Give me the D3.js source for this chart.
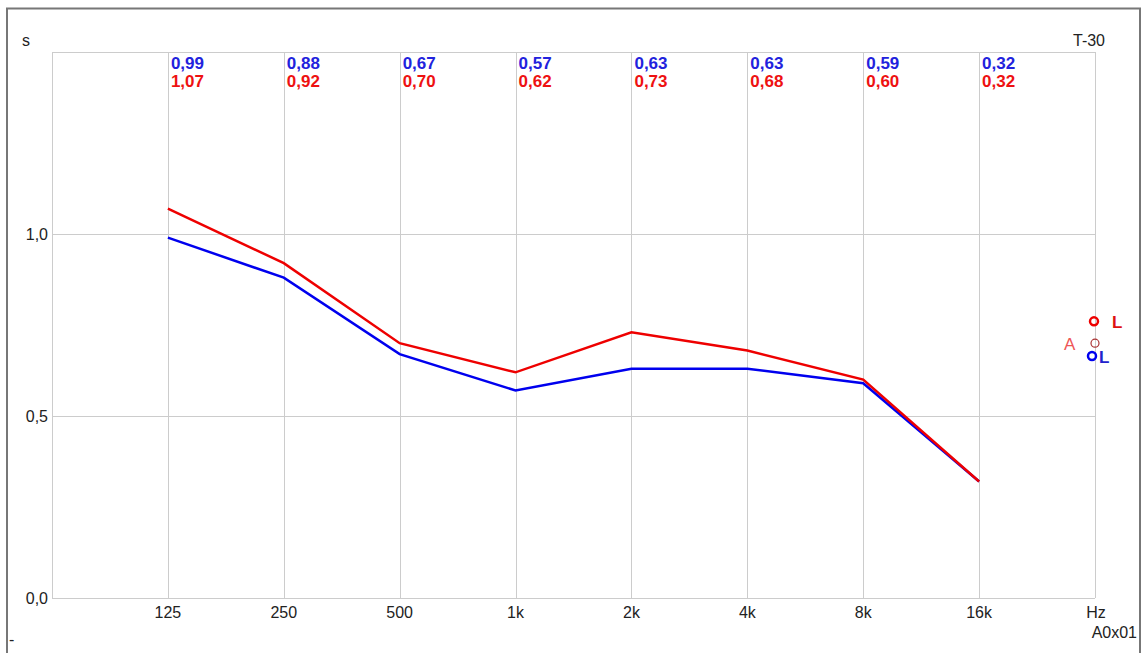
<!DOCTYPE html>
<html>
<head>
<meta charset="utf-8">
<script src="https://cdn.jsdelivr.net/npm/d3@7"></script>
<style>
  body { margin: 0; background: #fff; }
  text { font-family: "Liberation Sans", Arial, sans-serif; }
</style>
</head>
<body>
<svg id="chart" width="1145" height="653"></svg>
<script>
// frequency bands (Hz) and their labels
const bands = [125, 250, 500, 1000, 2000, 4000, 8000, 16000];
const bandLabels = ["125", "250", "500", "1k", "2k", "4k", "8k", "16k"];
// T-30 values in seconds
const blueValues = [0.99, 0.88, 0.67, 0.57, 0.63, 0.63, 0.59, 0.32];
const redValues = [1.07, 0.92, 0.70, 0.62, 0.73, 0.68, 0.60, 0.32];
// y ticks
const yTicks = [0, 0.5, 1.0];
// markers on the right edge
const redL = 0.76, avgA = 0.70, blueL = 0.665;

const svg = d3.select("#chart");
const plotLeft = 52, plotRight = 1095, plotTop = 52, plotBottom = 598;

const x = d3.scaleLog().base(2).domain([62.5, 32000]).range([plotLeft, plotRight]);
const y = d3.scaleLinear().domain([0, 1.5]).range([plotBottom, plotTop]);
const fmt = v => d3.format(".2f")(v).replace(".", ",");

// outer frame
svg.append("path")
    .attr("d", "M7,653 L7,8.5 L1140,8.5 L1140,653")
    .attr("fill", "none").attr("stroke", "#777").attr("stroke-width", 2);

// grid
const grid = svg.append("g").attr("stroke", "#cccccc").attr("stroke-width", 1);
bands.concat([32000]).forEach(b => {
    grid.append("line")
        .attr("x1", Math.round(x(b)) + 0.5).attr("x2", Math.round(x(b)) + 0.5)
        .attr("y1", plotTop).attr("y2", plotBottom);
});
yTicks.concat([1.5]).forEach(t => {
    grid.append("line")
        .attr("x1", plotLeft).attr("x2", plotRight)
        .attr("y1", Math.round(y(t)) + 0.5).attr("y2", Math.round(y(t)) + 0.5);
});
grid.append("line").attr("x1", plotLeft + 0.5).attr("x2", plotLeft + 0.5).attr("y1", plotTop).attr("y2", plotBottom);

// y tick labels
svg.selectAll(".ylab").data(yTicks).enter().append("text")
    .attr("x", plotLeft - 4).attr("y", d => y(d) + 6)
    .attr("text-anchor", "end").attr("font-size", 16).attr("fill", "#222")
    .text(d => d3.format(".1f")(d).replace(".", ","));

// x tick labels
svg.selectAll(".xlab").data(bands).enter().append("text")
    .attr("x", d => x(d)).attr("y", 618)
    .attr("text-anchor", "middle").attr("font-size", 16).attr("fill", "#222")
    .text((d, i) => bandLabels[i]);
svg.append("text").attr("x", plotRight + 1).attr("y", 618)
    .attr("text-anchor", "middle").attr("font-size", 16).attr("fill", "#222").text("Hz");

// axis titles & corner labels
svg.append("text").attr("x", 22).attr("y", 46).attr("font-size", 16).attr("fill", "#222").text("s");
svg.append("text").attr("x", 1105).attr("y", 46).attr("text-anchor", "end").attr("font-size", 16).attr("fill", "#222").text("T-30");
svg.append("text").attr("x", 1137).attr("y", 638).attr("text-anchor", "end").attr("font-size", 16).attr("fill", "#222").text("A0x01");
svg.append("text").attr("x", 9).attr("y", 645).attr("font-size", 16).attr("fill", "#222").text("-");

// value labels at top
svg.selectAll(".vb").data(blueValues).enter().append("text")
    .attr("x", (d, i) => x(bands[i]) + 3).attr("y", 69)
    .attr("font-size", 17).attr("font-weight", "bold").attr("fill", "#2222dd")
    .text(d => fmt(d));
svg.selectAll(".vr").data(redValues).enter().append("text")
    .attr("x", (d, i) => x(bands[i]) + 3).attr("y", 87)
    .attr("font-size", 17).attr("font-weight", "bold").attr("fill", "#ee1111")
    .text(d => fmt(d));

// curves
const line = d3.line().x((d, i) => x(bands[i])).y(d => y(d));
svg.append("path").datum(blueValues).attr("d", line)
    .attr("fill", "none").attr("stroke", "#0000ee").attr("stroke-width", 2.5);
svg.append("path").datum(redValues).attr("d", line)
    .attr("fill", "none").attr("stroke", "#ee0000").attr("stroke-width", 2.5);

// right-edge markers
svg.append("circle").attr("cx", plotRight - 1).attr("cy", y(redL)).attr("r", 4)
    .attr("fill", "none").attr("stroke", "#ee0000").attr("stroke-width", 2.5);
svg.append("text").attr("x", 1112).attr("y", y(redL) + 7).attr("font-size", 17).attr("font-weight", "bold").attr("fill", "#dd1111").text("L");
svg.append("circle").attr("cx", plotRight).attr("cy", y(avgA)).attr("r", 4)
    .attr("fill", "none").attr("stroke", "#aa3333").attr("stroke-width", 1.2);
svg.append("text").attr("x", 1064).attr("y", y(avgA) + 7).attr("font-size", 17).attr("fill", "#ee5555").text("A");
svg.append("circle").attr("cx", plotRight - 3).attr("cy", y(blueL)).attr("r", 4)
    .attr("fill", "none").attr("stroke", "#0000ee").attr("stroke-width", 2.5);
svg.append("text").attr("x", 1099).attr("y", y(blueL) + 7).attr("font-size", 17).attr("font-weight", "bold").attr("fill", "#2222cc").text("L");
</script>
</body>
</html>
